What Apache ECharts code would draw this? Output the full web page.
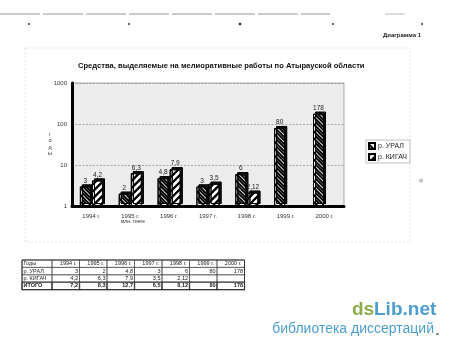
<!DOCTYPE html>
<html>
<head>
<meta charset="utf-8">
<script src="https://cdn.jsdelivr.net/npm/echarts@6/dist/echarts.min.js"></script>
<style>
html,body{margin:0;padding:0;background:#fff}
#c{width:450px;height:349px}
</style>
</head>
<body>
<div id="c"></div>
<script>
// Годы и средства (млн. тенге) по рекам
const years = ['1994 г.', '1995 г.', '1996 г.', '1997 г.', '1998 г.', '1999 г.', '2000 г.'];
const ural = [3, 2, 4.8, 3, 6, 80, 178];
const kigach = [4.2, 6.3, 7.9, 3.5, 2.12, null, null];
const totals = [7.2, 8.3, 12.7, 6.5, 8.12, 80, 178];
const seriesNames = ['р. УРАЛ', 'р. КИГАЧ'];
const totalLabel = 'ИТОГО';
const yearHeader = 'Годы';

const FONT = '"Liberation Sans", Arial, sans-serif';
const fmt = v => (v === null || v === undefined) ? '' : String(v).replace('.', ',');

function stripes(rot) {
  return {
    symbol: 'rect',
    symbolSize: 1,
    color: '#000',
    dashArrayX: [1, 0],
    dashArrayY: [1.6, 2.2],
    rotation: rot
  };
}

// Таблица под диаграммой
function buildTable() {
  const els = [];
  const x0 = 22, y0 = 260, firstW = 30, colW = 27.5, rowH = 7.4;
  const rows = [
    [yearHeader].concat(years),
    [seriesNames[0]].concat(ural.map(fmt)),
    [seriesNames[1]].concat(kigach.map(fmt)),
    [totalLabel].concat(totals.map(fmt))
  ];
  const totalW = firstW + colW * years.length;
  rows.forEach((row, r) => {
    row.forEach((cell, c) => {
      const x = c === 0 ? x0 : x0 + firstW + (c - 1) * colW;
      const w = c === 0 ? firstW : colW;
      const y = y0 + r * rowH;
      els.push({
        type: 'rect',
        shape: { x: x, y: y, width: w, height: rowH },
        style: { fill: 'none', stroke: '#444', lineWidth: r === 3 ? 1.2 : 0.6 }
      });
      const alignRight = c > 0 && r > 0;
      els.push({
        type: 'text',
        style: {
          text: cell,
          x: alignRight ? x + w - 1.5 : (c === 0 ? x + 1.5 : x + w - 3),
          y: y + rowH / 2,
          align: (alignRight || (r === 0 && c > 0)) ? 'right' : 'left',
          verticalAlign: 'middle',
          font: (r === 3 ? 'bold ' : '') + '5.5px ' + FONT,
          fill: '#222'
        }
      });
    });
  });
  els.push({
    type: 'rect',
    shape: { x: x0, y: y0, width: totalW, height: rowH * 4 },
    style: { fill: 'none', stroke: '#333', lineWidth: 1 }
  });
  return els;
}

const chart = echarts.init(document.getElementById('c'), null, { renderer: 'canvas' });

const barShadow = { shadowColor: '#111', shadowOffsetX: 2, shadowOffsetY: -2, shadowBlur: 0 };

chart.setOption({
  backgroundColor: '#fff',
  animation: false,
  title: {
    text: 'Средства, выделяемые на мелиоративные работы по Атырауской области',
    left: 73,
    top: 57,
    textStyle: { fontFamily: FONT, fontSize: 7.6, fontWeight: 'bold', color: '#111' }
  },
  legend: {
    orient: 'vertical',
    left: 366,
    top: 140,
    icon: 'rect',
    itemWidth: 6,
    itemHeight: 6,
    itemGap: 3,
    padding: [2, 3, 2, 2],
    borderColor: '#999',
    borderWidth: 0.6,
    textStyle: { fontFamily: FONT, fontSize: 7, color: '#222', padding: [0, 0, 0, -2] },
    data: seriesNames
  },
  grid: {
    left: 72,
    right: 106,
    top: 83,
    bottom: 143,
    show: true,
    backgroundColor: '#ececec',
    borderColor: '#999',
    borderWidth: 0.8
  },
  xAxis: {
    type: 'category',
    data: years,
    axisTick: { show: false },
    axisLine: { lineStyle: { color: '#000', width: 3 } },
    axisLabel: { fontFamily: FONT, fontSize: 6, color: '#333', margin: 7 }
  },
  yAxis: {
    type: 'log',
    logBase: 10,
    min: 1,
    max: 1000,
    axisLine: { show: true, lineStyle: { color: '#000', width: 3 } },
    axisTick: { show: false },
    axisLabel: { fontFamily: FONT, fontSize: 6, color: '#333', margin: 5, formatter: v => String(Math.round(v)) },
    splitLine: { show: true, lineStyle: { color: '#888', width: 0.7, type: [2, 1.5] } }
  },
  series: [
    {
      name: seriesNames[0],
      type: 'bar',
      data: ural,
      barWidth: 11,
      barGap: '10%',
      itemStyle: Object.assign({ color: '#fff', borderColor: '#000', borderWidth: 1, decal: stripes(Math.PI / 4) }, barShadow),
      label: { show: true, position: 'top', distance: 2, fontFamily: FONT, fontSize: 6.5, color: '#222', formatter: p => fmt(p.value) }
    },
    {
      name: seriesNames[1],
      type: 'bar',
      data: kigach,
      barWidth: 11,
      itemStyle: Object.assign({ color: '#fff', borderColor: '#000', borderWidth: 1, decal: stripes(-Math.PI / 4) }, barShadow),
      label: { show: true, position: 'top', distance: 2, fontFamily: FONT, fontSize: 6.5, color: '#222', formatter: p => fmt(p.value) }
    }
  ],
  graphic: [
    // линия и отметки у верхнего края листа
    { type: 'line', shape: { x1: 0, y1: 14, x2: 330, y2: 14 }, style: { stroke: '#999', lineWidth: 1, lineDash: [40, 3] } },
    { type: 'line', shape: { x1: 385, y1: 14, x2: 405, y2: 14 }, style: { stroke: '#bbb', lineWidth: 1 } },
    { type: 'circle', shape: { cx: 29, cy: 24, r: 1 }, style: { fill: '#333' } },
    { type: 'circle', shape: { cx: 129, cy: 24, r: 1 }, style: { fill: '#333' } },
    { type: 'circle', shape: { cx: 240, cy: 24, r: 1.3 }, style: { fill: '#222' } },
    { type: 'circle', shape: { cx: 333, cy: 24, r: 1 }, style: { fill: '#333' } },
    { type: 'circle', shape: { cx: 422, cy: 24, r: 1 }, style: { fill: '#333' } },
    { type: 'text', style: { text: 'Диаграмма 1', x: 421, y: 35, align: 'right', verticalAlign: 'middle', font: 'bold 6px ' + FONT, fill: '#222' } },
    // рамка области диаграммы
    { type: 'rect', shape: { x: 25, y: 48, width: 385, height: 194 }, style: { fill: 'none', stroke: '#ddd', lineWidth: 0.8, lineDash: [2, 2] } },
    // подписи осей
    { type: 'text', style: { text: 'г\nо\nд\nы', x: 50, y: 144, align: 'center', verticalAlign: 'middle', font: '5.5px ' + FONT, fill: '#333', lineHeight: 6.5 } },
    { type: 'text', style: { text: 'млн. тенге', x: 133, y: 222, align: 'center', verticalAlign: 'middle', font: '5px ' + FONT, fill: '#333' } },
    { type: 'text', style: { text: 'ф', x: 421, y: 181, align: 'center', verticalAlign: 'middle', font: '5px ' + FONT, fill: '#777' } },
    // водяной знак
    { type: 'text', style: { text: 'ds', x: 352, y: 310, verticalAlign: 'middle', font: 'bold 19px ' + FONT, fill: '#8cad4b' } },
    { type: 'text', style: { text: 'Lib.net', x: 374, y: 310, verticalAlign: 'middle', font: 'bold 19px ' + FONT, fill: '#4d9dcf' } },
    { type: 'text', style: { text: 'библиотека диссертаций', x: 434, y: 329, align: 'right', verticalAlign: 'middle', font: '14px ' + FONT, fill: '#4d9dcf' } },
    { type: 'line', shape: { x1: 436, y1: 334, x2: 439, y2: 334 }, style: { stroke: '#333', lineWidth: 1 } }
  ].concat(buildTable())
});
</script>
</body>
</html>
